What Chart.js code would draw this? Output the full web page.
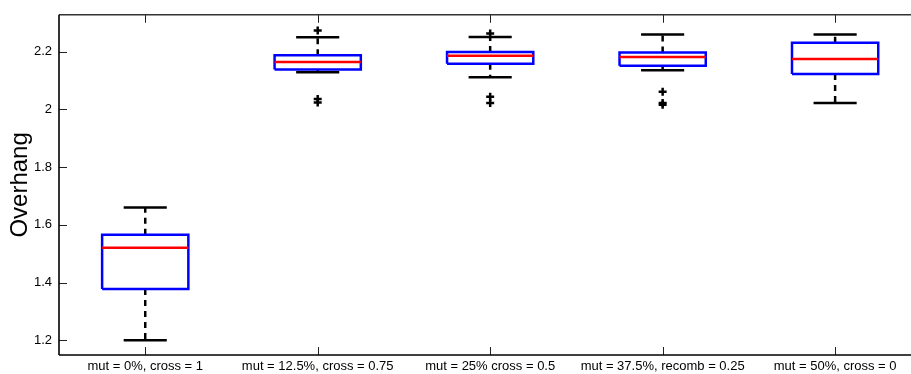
<!DOCTYPE html>
<html>
<head>
<meta charset="utf-8">
<script src="https://cdn.jsdelivr.net/npm/chart.js@4.4.1/dist/chart.umd.min.js"></script>
<style>
  html, body { margin: 0; padding: 0; background: #fff; overflow: hidden; }
  canvas { display: block; }
</style>
</head>
<body>
<canvas id="chart" width="911" height="374"></canvas>
<script>
// boxplot summary per configuration
const categories = [
  "mut = 0%, cross = 1",
  "mut = 12.5%, cross = 0.75",
  "mut = 25% cross = 0.5",
  "mut = 37.5%, recomb = 0.25",
  "mut = 50%, cross = 0"
]
const lowerWhisker = [1.200, 2.129, 2.112, 2.136, 2.022]
const q1 = [1.378, 2.138, 2.158, 2.151, 2.123]
const median = [1.521, 2.164, 2.186, 2.182, 2.175]
const q3 = [1.566, 2.188, 2.199, 2.197, 2.231]
const upperWhisker = [1.660, 2.250, 2.251, 2.260, 2.260]
const outliers = [[], [2.274, 2.036, 2.024], [2.263, 2.044, 2.022], [2.061, 2.022, 2.016], []]
const yTicks = [1.2, 1.4, 1.6, 1.8, 2, 2.2]

const BOX_HALF = 0.25
const CAP_HALF = 0.125
const FONT = "'Liberation Sans', Arial, Helvetica, sans-serif"

// turn a list of polylines into one point list, broken by null gaps
function polylines(list) {
  const out = []
  list.forEach(poly => {
    poly.forEach(([x, y]) => out.push({ x, y }))
    out.push({ x: poly[poly.length - 1][0], y: null })
  })
  return out
}

const boxData = polylines(categories.map((c, i) => {
  const x = i + 1
  return [[x - BOX_HALF, q1[i]], [x + BOX_HALF, q1[i]], [x + BOX_HALF, q3[i]], [x - BOX_HALF, q3[i]], [x - BOX_HALF, q1[i]]]
}))
const medianData = polylines(categories.map((c, i) => [[i + 1 - BOX_HALF, median[i]], [i + 1 + BOX_HALF, median[i]]]))
const whiskerData = polylines(categories.flatMap((c, i) => [
  [[i + 1, q3[i]], [i + 1, upperWhisker[i]]],
  [[i + 1, q1[i]], [i + 1, lowerWhisker[i]]]
]))
const capData = polylines(categories.flatMap((c, i) => [
  [[i + 1 - CAP_HALF, upperWhisker[i]], [i + 1 + CAP_HALF, upperWhisker[i]]],
  [[i + 1 - CAP_HALF, lowerWhisker[i]], [i + 1 + CAP_HALF, lowerWhisker[i]]]
]))
const outlierData = outliers.flatMap((vals, i) => vals.map(v => ({ x: i + 1, y: v })))

const lineDefaults = { pointRadius: 0, spanGaps: false, tension: 0, fill: false }

// matlab-like frame: inward ticks, top border (right side is cropped off in the original)
const frame = {
  id: "frame",
  afterDatasetsDraw(chart) {
    const { ctx, chartArea: a, scales: { x, y } } = chart
    const seg = (x1, y1, x2, y2) => { ctx.beginPath(); ctx.moveTo(x1, y1); ctx.lineTo(x2, y2); ctx.stroke() }
    ctx.save()
    ctx.strokeStyle = "#222"
    ctx.lineWidth = 1
    x.ticks.forEach(t => {
      const px = Math.round(x.getPixelForValue(t.value)) + 0.5
      seg(px, a.bottom, px, a.bottom - 8)
      seg(px, a.top, px, a.top + 8)
    })
    y.ticks.forEach(t => {
      const py = Math.round(y.getPixelForValue(t.value)) + 0.5
      seg(a.left, py, a.left + 8, py)
    })
    ctx.lineWidth = 1.6
    ctx.strokeStyle = "#333"
    seg(a.left, a.top, a.right, a.top)
    ctx.strokeStyle = "#000"
    seg(a.left, a.top, a.left, a.bottom)
    seg(a.left, a.bottom, a.right, a.bottom)
    ctx.restore()
  }
}

new Chart(document.getElementById("chart"), {
  type: "line",
  data: {
    datasets: [
      {
        label: "outliers", data: outlierData, showLine: false,
        pointStyle: "cross", pointRadius: 4, pointBorderWidth: 2.5,
        borderColor: "#000", pointBorderColor: "#000"
      },
      { ...lineDefaults, label: "median", data: medianData, borderColor: "#ff0000", borderWidth: 2.5 },
      { ...lineDefaults, label: "box", data: boxData, borderColor: "#0000ff", borderWidth: 2.5, borderJoinStyle: "miter" },
      { ...lineDefaults, label: "caps", data: capData, borderColor: "#000", borderWidth: 2.5 },
      { ...lineDefaults, label: "whiskers", data: whiskerData, borderColor: "#000", borderWidth: 2.5, borderDash: [6, 5] }
    ]
  },
  options: {
    responsive: false,
    animation: false,
    devicePixelRatio: 1,
    layout: { autoPadding: false, padding: { top: 11, left: 0, right: 0, bottom: 0 } },
    plugins: {
      legend: { display: false },
      tooltip: { enabled: false }
    },
    scales: {
      x: {
        type: "linear",
        min: 0.5,
        max: 5.44,
        afterBuildTicks: s => { s.ticks = categories.map((c, i) => ({ value: i + 1 })) },
        afterFit: s => { s.height = 19 },
        grid: { display: false, drawTicks: false },
        border: { display: false },
        ticks: {
          callback: v => categories[Math.round(v) - 1],
          autoSkip: false,
          maxRotation: 0,
          padding: 4,
          color: "#000",
          font: { family: FONT, size: 13 }
        }
      },
      y: {
        min: 1.149,
        max: 2.328,
        afterBuildTicks: s => { s.ticks = yTicks.map(v => ({ value: v })) },
        afterFit: s => { s.width = 59 },
        grid: { display: false, drawTicks: false },
        border: { display: false },
        title: {
          display: true,
          text: "Overhang",
          color: "#000",
          padding: { top: 6, bottom: 0 },
          font: { family: FONT, size: 24 }
        },
        ticks: {
          callback: v => String(+v.toFixed(1)),
          padding: 7,
          color: "#000",
          font: { family: FONT, size: 13 }
        }
      }
    }
  },
  plugins: [frame]
})
</script>
</body>
</html>
